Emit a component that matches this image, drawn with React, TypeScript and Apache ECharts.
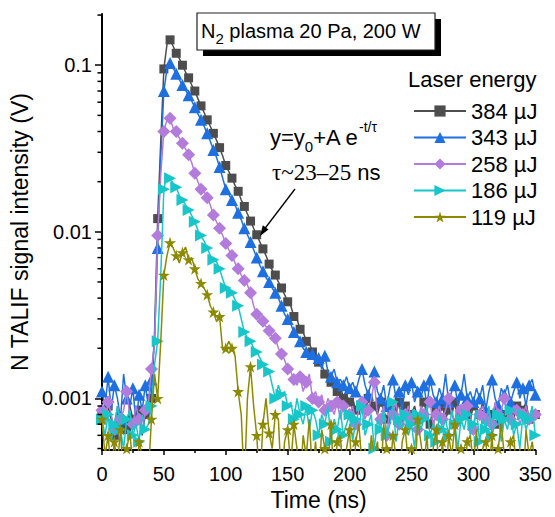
import React, { useEffect, useRef } from "react";
import * as echarts from "echarts";

// time base (ns), 2.5 ns sampling
const timeStepNs = 2.5;
const nPoints = 141;
const timesNs: number[] = Array.from({ length: nPoints }, (_, i) => i * timeStepNs);

// TALIF signal, in mV
const s384mV = [
  0.8, 0.7, 0.9, 0.75, 0.6, 0.85, 0.7, 0.8, 0.65, 0.9,
  0.75, 0.7, 0.85, 0.6, 0.8, 0.75, 1.0, 2.5, 12, 35,
  95, 133, 142, 130, 118, 110, 100, 91, 84, 76,
  70, 63, 57, 52, 47, 43, 39, 35.5, 32, 28.5,
  25, 23, 21, 19, 17.5, 15.5, 14.2, 12.8, 11.6, 10.5,
  9.6, 8.7, 7.9, 7.2, 6.4, 5.9, 5.5, 5.0, 4.6, 4.2,
  3.8, 3.6, 3.1, 3.0, 2.6, 2.5, 2.2, 2.15, 1.9, 1.85,
  1.65, 1.6, 1.4, 1.45, 1.25, 1.3, 1.1, 1.2, 1.0, 1.05,
  0.95, 1.0, 0.85, 0.95, 0.9, 0.8, 1.0, 0.85, 0.9, 0.8,
  0.95, 0.85, 0.75, 0.9, 0.85, 0.8, 0.95, 0.7, 0.9, 0.85,
  0.8, 0.9, 0.75, 0.85, 0.95, 0.8, 0.7, 0.9, 0.85, 0.8,
  0.9, 0.75, 0.85, 0.8, 0.95, 0.7, 0.85, 0.9, 0.8, 0.75,
  0.9, 0.85, 0.8, 0.95, 0.75, 0.85, 0.8, 0.9, 0.7, 0.85,
  0.8, 0.9, 0.85, 0.75, 0.9, 0.8, 0.85, 0.95, 0.75, 0.85, 0.8,
];
const s343mV = [
  1.1, 0.9, 1.35, 0.85, 1.2, 1.0, 0.75, 1.4, 1.0, 0.9,
  1.15, 0.7, 1.05, 0.85, 1.2, 0.9, 1.3, 2.3, 8, 28,
  70, 95, 103, 96, 89, 82, 76, 71, 66, 61,
  56, 51, 47, 43, 39, 35, 31, 28, 24.5, 21,
  18, 16.8, 15.5, 14.5, 13, 11.8, 10.5, 9.6, 8.7, 7.8,
  7.0, 6.3, 5.8, 5.3, 5.0, 4.6, 4.3, 4.0, 3.6, 3.2,
  3.0, 2.8, 2.5, 2.4, 2.2, 2.0, 1.9, 1.75, 1.85, 1.6,
  1.75, 1.5, 1.8, 1.45, 1.35, 1.5, 1.25, 1.3, 1.2, 1.35,
  1.15, 1.25, 1.1, 1.3, 1.5, 1.2, 1.05, 1.25, 1.45, 1.1,
  1.0, 1.2, 0.9, 1.15, 1.3, 1.0, 1.1, 0.85, 1.2, 1.05,
  1.25, 0.95, 1.1, 1.0, 1.2, 0.9, 1.3, 1.05, 0.95, 1.15,
  1.0, 1.4, 0.95, 1.1, 1.2, 0.9, 1.05, 1.4, 1.0, 1.1,
  0.95, 1.15, 1.0, 1.2, 0.85, 1.1, 1.3, 1.0, 0.9, 1.15,
  1.05, 1.2, 0.95, 1.1, 1.25, 1.0, 1.15, 0.9, 1.2, 1.3, 1.05,
];
const s258mV = [
  0.85, 0.7, 0.95, 0.8, 0.65, 0.9, 0.75, 0.85, 1.1, 0.8,
  0.7, 0.9, 0.75, 0.65, 0.85, 0.95, 1.5, 2.1, 9.5, 22,
  40, 47, 48, 42, 40, 36.5, 34, 31.5, 29, 26,
  22.5, 20, 18, 17.5, 16, 14.5, 12.6, 11.5, 10.5, 9.5,
  8.5, 7.8, 7.2, 6.5, 6.0, 5.5, 5.1, 4.8, 4.3, 3.6,
  3.2, 3.0, 2.9, 2.7, 2.55, 2.35, 2.3, 2.0, 1.85, 1.7,
  1.5, 1.45, 1.3, 1.2, 1.35, 1.1, 1.25, 1.4, 1.0, 1.1,
  0.95, 1.05, 0.85, 1.0, 0.9, 0.8, 0.95, 0.75, 0.9, 0.85,
  0.8, 0.9, 0.7, 0.85, 0.95, 0.75, 0.85, 1.0, 1.25, 0.8,
  0.75, 0.9, 0.6, 0.85, 0.8, 0.95, 0.7, 0.85, 0.8, 0.9,
  0.75, 0.85, 0.65, 0.9, 0.8, 0.85, 0.95, 0.7, 0.8, 0.9,
  0.75, 0.85, 1.0, 0.8, 0.7, 0.9, 0.85, 0.75, 0.9, 0.8,
  0.65, 0.85, 0.8, 0.9, 0.75, 0.85, 0.7, 0.95, 0.8, 0.85,
  1.0, 0.8, 0.75, 0.9, 0.85, 0.7, 0.8, 0.9, 0.75, 0.85, 0.8,
];
const s186mV = [
  0.75, 0.6, 0.8, 0.55, 0.7, 0.9, 0.65, 0.5, 0.75, 0.85,
  0.6, 0.7, 0.55, 0.8, 0.65, 0.7, 0.9, 1.6, 2.2, 5.5,
  18, 22, 21, 19.5, 18.5, 16.5, 15.5, 14.5, 13.5, 12.5,
  11.5, 10.2, 9.5, 8.8, 8.0, 7.2, 6.8, 6.6, 6.0, 5.2,
  4.6, 4.2, 4.3, 3.9, 3.6, 3.0, 2.5, 2.3, 2.2, 2.0,
  1.9, 1.75, 1.6, 1.5, 1.45, 1.2, 1.0, 1.2, 1.05, 1.1,
  0.9, 0.95, 0.75, 1.0, 0.8, 0.7, 0.9, 0.65, 0.85, 0.75,
  0.6, 0.8, 0.7, 0.9, 0.55, 0.75, 0.65, 0.85, 0.6, 0.7,
  0.8, 0.55, 0.75, 0.65, 0.9, 0.6, 0.7, 0.8, 0.5, 0.75,
  0.65, 0.85, 0.6, 0.7, 0.95, 0.55, 0.75, 0.65, 0.8, 0.6,
  0.7, 0.5, 0.8, 0.65, 0.75, 0.9, 0.6, 0.7, 0.55, 0.8,
  0.65, 0.75, 0.6, 0.85, 0.7, 0.5, 0.75, 0.65, 0.8, 0.6,
  0.7, 0.85, 0.55, 0.75, 0.65, 0.9, 0.6, 0.7, 0.8, 0.55,
  0.75, 0.65, 0.85, 0.6, 0.7, 0.5, 0.8, 0.65, 0.75, 0.9, 0.6,
];
const s119mV = [
  0.75, 0.45, 0.6, 0.35, 0.55, 0.4, 0.65, 0.3, 0.5, 0.62,
  0.4, 0.3, 0.55, 0.45, 0.3, 0.35, 0.75, 1.4, 1.0, 2.2,
  5.5, 7.2, 8.6, 8.0, 7.2, 6.5, 7.5, 8.1, 6.8, 7.0,
  6.0, 5.2, 4.9, 4.6, 4.2, 3.6, 3.3, 2.9, 3.1, 1.95,
  2.0, 2.2, 2.0, 1.8, 1.1, 0.8, 0.3, 1.0, 1.55, 0.9,
  0.6, 0.3, 0.7, 1.0, 0.62, 0.5, 0.8, 0.75, 0.3, 0.55,
  0.65, 0.4, 0.7, 0.5, 0.3, 0.6, 0.45, 0.75, 0.35, 0.55,
  0.3, 0.65, 0.5, 0.4, 0.7, 0.3, 0.55, 0.6, 0.35, 0.5,
  0.65, 0.3, 0.55, 0.7, 0.4, 0.5, 0.3, 0.6, 0.45, 0.55,
  0.3, 0.7, 0.5, 0.35, 0.6, 0.45, 0.3, 0.55, 0.65, 0.4,
  0.5, 0.3, 0.75, 0.55, 0.4, 0.6, 0.3, 0.5, 0.65, 0.35,
  0.55, 0.3, 0.6, 0.45, 0.7, 0.35, 0.5, 0.3, 0.55, 0.6,
  0.4, 0.65, 0.3, 0.5, 0.55, 0.35, 0.6, 0.3, 0.5, 0.7,
  0.45, 0.3, 0.55, 0.6, 0.35, 0.5, 0.3, 0.65, 0.45, 0.55, 0.4,
];

const seriesNames = ["384 µJ", "343 µJ", "258 µJ", "186 µJ", "119 µJ"];
const seriesValuesMV = [s384mV, s343mV, s258mV, s186mV, s119mV];

const xTickValues = [0, 50, 100, 150, 200, 250, 300, 350];
const yMajorTicks = [0.001, 0.01, 0.1];
const yMinorTicks = [
  0.0005, 0.0006, 0.0007, 0.0008, 0.0009,
  0.002, 0.003, 0.004, 0.005, 0.006, 0.007, 0.008, 0.009,
  0.02, 0.03, 0.04, 0.05, 0.06, 0.07, 0.08, 0.09,
  0.2,
];

const SANS = '"Liberation Sans", Arial, Helvetica, sans-serif';
const SERIF = '"Liberation Serif", "Times New Roman", serif';

const STAR =
  "path://M50,0 L61.2,34.5 L97.6,34.5 L68.2,55.9 L79.4,90.5 L50,69.1 L20.6,90.5 L31.8,55.9 L2.4,34.5 L38.8,34.5 Z";

const styles = [
  { color: "#4d4d4d", symbol: "rect", size: 9, rotate: 0 },
  { color: "#1e6fdf", symbol: "triangle", size: 12, rotate: 0 },
  { color: "#b27bdc", symbol: "diamond", size: 13, rotate: 0 },
  { color: "#17c6c9", symbol: "triangle", size: 12, rotate: -90 },
  { color: "#8c8a00", symbol: STAR, size: 12, rotate: 0 },
];

export default function App() {
  const ref = useRef<HTMLDivElement>(null);
  useEffect(() => {
    if (!ref.current) return;
    document.body.style.margin = "0";
    const chart = echarts.init(ref.current, undefined, { renderer: "svg" });

    const lineSeries = seriesValuesMV.map((vals, k) => ({
      name: seriesNames[k],
      type: "line",
      data: vals.map((v, i) => {
        const item: any = { value: [timesNs[i], v / 1000] };
        if (i % 2 === 1) item.symbol = "none";
        return item;
      }),
      symbol: styles[k].symbol,
      symbolSize: styles[k].size,
      symbolRotate: styles[k].rotate,
      showSymbol: true,
      lineStyle: { color: styles[k].color, width: 1.5 },
      itemStyle: { color: styles[k].color },
      emphasis: { disabled: true },
      clip: true,
      z: 2 + k,
    }));

    const option: any = {
      animation: false,
      grid: { left: 100, right: 19, top: 14, bottom: 67 },
      xAxis: {
        type: "value",
        min: xTickValues[0],
        max: xTickValues[xTickValues.length - 1],
        interval: 50,
        name: "Time (ns)",
        nameLocation: "middle",
        nameGap: 36,
        nameTextStyle: { fontSize: 23, fontFamily: SANS, color: "#000" },
        axisLine: { show: true, lineStyle: { color: "#000", width: 2 } },
        axisTick: { show: true, inside: false, length: 5, lineStyle: { color: "#000", width: 1.5 } },
        minorTick: { show: true, splitNumber: 2, length: 3, lineStyle: { color: "#000", width: 1.5 } },
        axisLabel: { fontSize: 20, fontFamily: SANS, color: "#000", margin: 14 },
        splitLine: { show: false },
      },
      yAxis: {
        type: "log",
        logBase: 10,
        min: 0.00049,
        max: 0.203,
        name: "N TALIF signal intensity (V)",
        nameLocation: "middle",
        nameGap: 68,
        nameTextStyle: { fontSize: 23, fontFamily: SANS, color: "#000" },
        axisLine: { show: true, lineStyle: { color: "#000", width: 2 } },
        axisTick: { show: true, inside: false, length: 7, lineStyle: { color: "#000", width: 1.5 } },
        axisLabel: {
          fontSize: 20,
          fontFamily: SANS,
          color: "#000",
          margin: 10,
          showMinLabel: false,
          showMaxLabel: false,
          formatter: (v: number) => {
            const hit = yMajorTicks.find((t) => Math.abs(t - v) / t < 1e-6);
            return hit !== undefined ? String(hit) : "";
          },
        },
        splitLine: { show: false },
      },
      legend: {
        orient: "vertical",
        left: 408,
        top: 95,
        itemWidth: 52,
        itemHeight: 14,
        itemGap: 4.5,
        selectedMode: false,
        data: seriesNames,
        textStyle: { fontSize: 22, fontFamily: SANS, color: "#000" },
      },
      series: [
        ...lineSeries,
        {
          type: "custom",
          name: "minorTicks",
          silent: true,
          clip: false,
          z: 10,
          data: yMinorTicks.map((v) => [xTickValues[0], v]),
          renderItem: (params: any, api: any) => {
            const p = api.coord([api.value(0), api.value(1)]);
            return {
              type: "line",
              shape: { x1: p[0] - 4.5, y1: p[1], x2: p[0], y2: p[1] },
              style: { stroke: "#000", lineWidth: 1.5 },
            };
          },
        },
      ],
      graphic: [
        // title box
        { type: "rect", shape: { x: 203, y: 19, width: 238, height: 37 }, style: { fill: "#000" }, z: 20 },
        { type: "rect", shape: { x: 197, y: 13, width: 238, height: 37 }, style: { fill: "#fff", stroke: "#222", lineWidth: 1.2 }, z: 21 },
        {
          type: "text",
          x: 201,
          y: 31,
          z: 22,
          style: {
            text: "{m|N}{s|2}{m| plasma 20 Pa, 200 W}",
            verticalAlign: "middle",
            align: "left",
            rich: {
              m: { fontSize: 20, fontFamily: SANS, fill: "#000", lineHeight: 30 },
              s: { fontSize: 15, fontFamily: SANS, fill: "#000", lineHeight: 15, verticalAlign: "bottom" },
            },
          },
        },
        // legend title
        {
          type: "text",
          x: 408,
          y: 79,
          z: 22,
          style: { text: "Laser energy", fontSize: 22, fontFamily: SANS, fill: "#000", verticalAlign: "middle", align: "left" },
        },
        // fit annotation
        {
          type: "text",
          x: 270,
          y: 137,
          z: 22,
          style: {
            text: "{m|y=y}{s|0}{m|+A e}{p|-t/τ}",
            verticalAlign: "middle",
            align: "left",
            rich: {
              m: { fontSize: 22, fontFamily: SANS, fill: "#000", lineHeight: 34 },
              s: { fontSize: 15, fontFamily: SANS, fill: "#000", lineHeight: 15, verticalAlign: "bottom" },
              p: { fontSize: 14, fontFamily: SANS, fill: "#000", lineHeight: 14, verticalAlign: "top" },
            },
          },
        },
        {
          type: "text",
          x: 272,
          y: 172,
          z: 22,
          style: {
            text: "{g|τ~23–25}{n| ns}",
            verticalAlign: "middle",
            align: "left",
            rich: {
              g: { fontSize: 23, fontFamily: SERIF, fill: "#000" },
              n: { fontSize: 22, fontFamily: SANS, fill: "#000" },
            },
          },
        },
        // arrow
        { type: "line", shape: { x1: 295, y1: 189, x2: 263, y2: 231 }, style: { stroke: "#000", lineWidth: 1.3 }, z: 22 },
        { type: "polygon", shape: { points: [[260, 236], [268.5, 229.5], [262.8, 225.2]] }, style: { fill: "#000" }, z: 22 },
      ],
    };

    chart.setOption(option);
    return () => chart.dispose();
  }, []);

  return <div ref={ref} style={{ position: "absolute", left: 0, top: 0, width: 555, height: 517 }} />;
}
